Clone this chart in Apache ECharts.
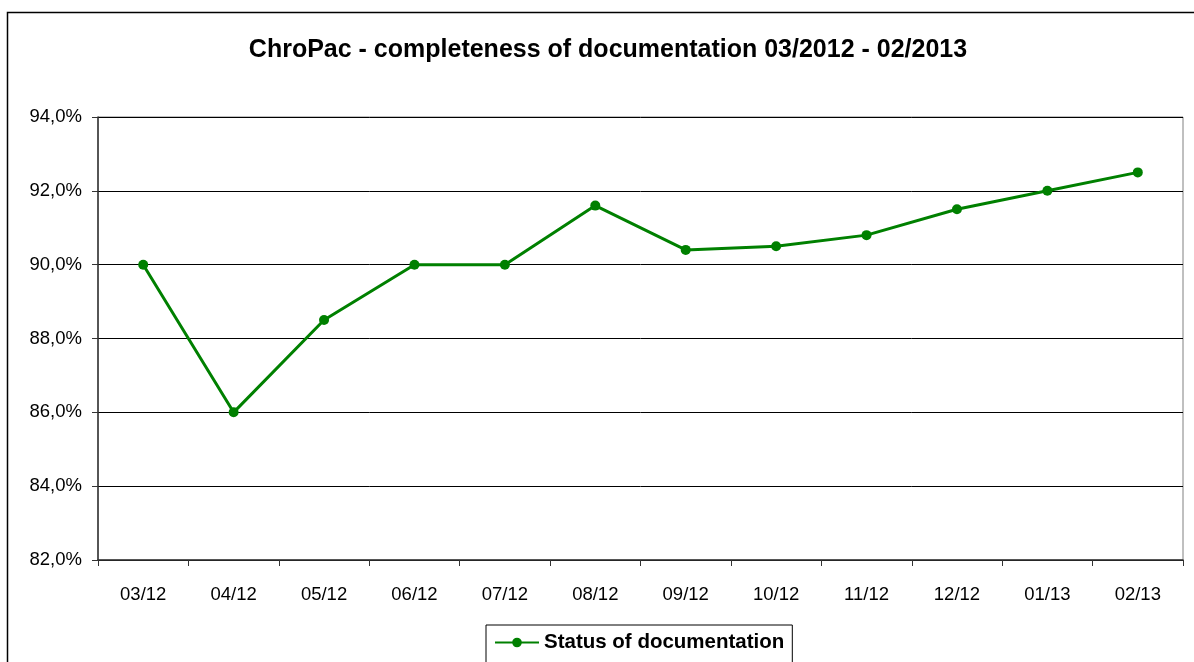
<!DOCTYPE html>
<html>
<head>
<meta charset="utf-8">
<script src="https://cdn.jsdelivr.net/npm/echarts@6/dist/echarts.min.js"></script>
<style>
html,body{margin:0;padding:0;background:#fff;}
#c{width:1194px;height:662px;}
</style>
</head>
<body>
<div id="c"></div>
<script>
var categories = ['03/12','04/12','05/12','06/12','07/12','08/12','09/12','10/12','11/12','12/12','01/13','02/13'];
var documentation = [90.0, 86.0, 88.5, 90.0, 90.0, 91.6, 90.4, 90.5, 90.8, 91.5, 92.0, 92.5];
var seriesName = 'Status of documentation';
var titleText = 'ChroPac - completeness of documentation 03/2012 - 02/2013';

var chart = echarts.init(document.getElementById('c'), null, {renderer:'canvas'});
var font = 'Liberation Sans, Arial, sans-serif';
chart.setOption({
  animation: false,
  backgroundColor: '#fff',
  title: {
    text: titleText,
    left: 603, top: 33, textAlign: 'center',
    textStyle: {fontFamily: font, fontSize: 25, fontWeight: 'bold', color: '#000'}
  },
  legend: {
    data: [seriesName],
    left: 486, top: 625,
    borderColor: '#000', borderWidth: 1,
    padding: [7, 8, 12, 8],
    itemWidth: 44, itemHeight: 12, itemGap: 4,
    textStyle: {fontFamily: font, fontSize: 20.5, fontWeight: 'bold', color: '#000'}
  },
  grid: {left: 98, right: 11, top: 117, bottom: 102, show: true, borderColor: '#808080', borderWidth: 1},
  xAxis: {
    type: 'category', data: categories, boundaryGap: true,
    axisLine: {lineStyle: {color: '#333', width: 1.5}},
    axisTick: {show: true, length: 6, alignWithLabel: false, lineStyle: {color: '#333'}},
    axisLabel: {fontFamily: font, fontSize: 18.5, color: '#000', margin: 25}
  },
  yAxis: {
    type: 'value', min: 82, max: 94, interval: 2,
    axisLine: {show: true, lineStyle: {color: '#333', width: 1.5}},
    axisTick: {show: true, length: 6, lineStyle: {color: '#333'}},
    splitLine: {show: true, lineStyle: {color: '#000', width: 1}},
    axisLabel: {fontFamily: font, fontSize: 18.5, color: '#000', margin: 16,
      formatter: function(v){ return v.toFixed(1).replace('.', ',') + '%'; }}
  },
  series: [{
    name: seriesName, type: 'line', data: documentation,
    symbol: 'circle', symbolSize: 10,
    lineStyle: {color: '#008000', width: 3},
    itemStyle: {color: '#008000'}
  }],
  graphic: [{
    type: 'rect', shape: {x: 7.5, y: 12.5, width: 1200, height: 700},
    style: {fill: 'none', stroke: '#000', lineWidth: 1.5}, z: -1
  }]
});
</script>
</body>
</html>
